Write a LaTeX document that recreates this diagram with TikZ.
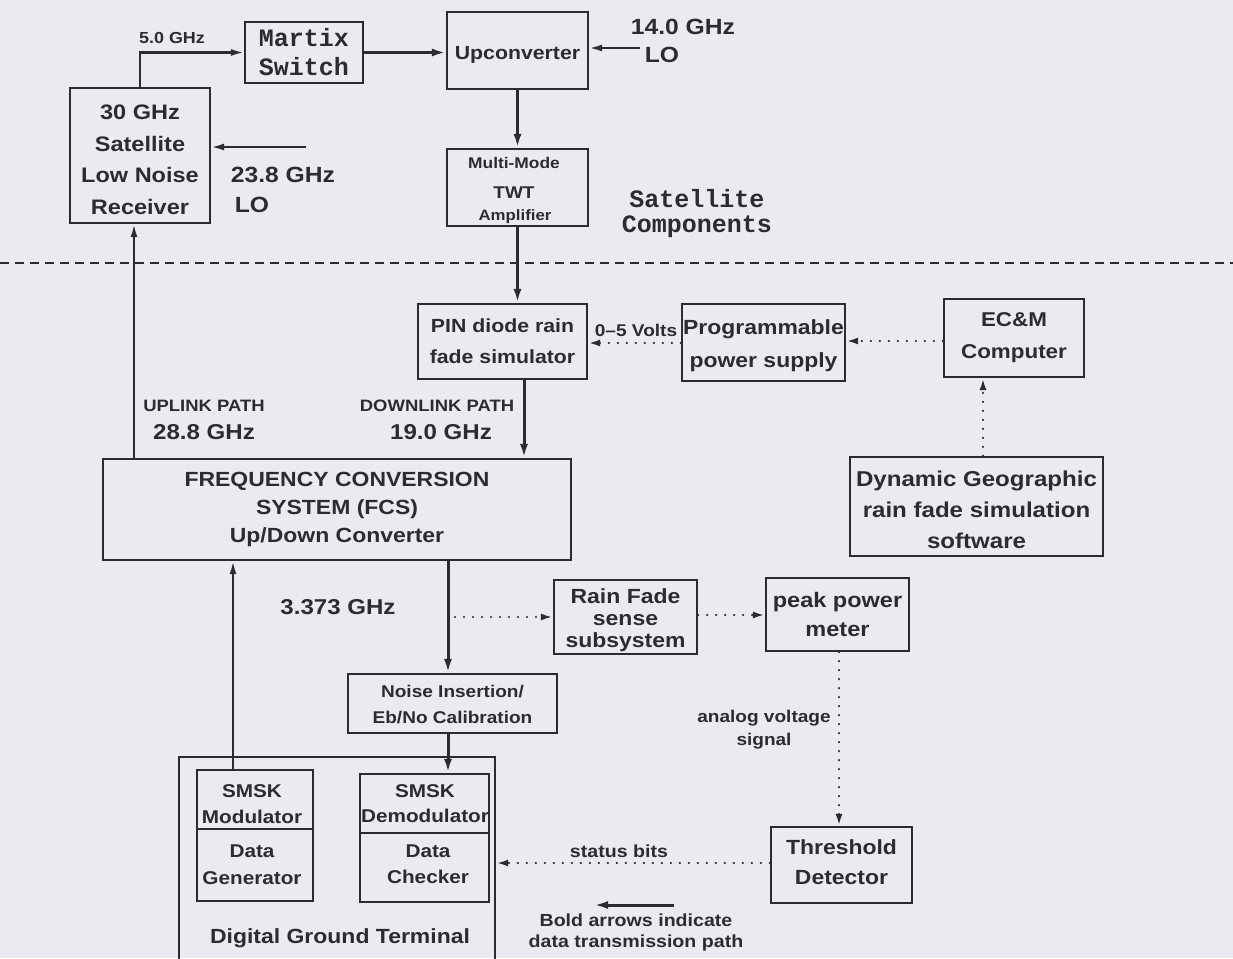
\documentclass[tikz,border=0pt]{standalone}
\usepackage{fontspec}
\setmainfont{Liberation Sans}[FakeStretch=1.12]
\newfontfamily\monof{Liberation Mono}
\usetikzlibrary{arrows.meta,calc}
\definecolor{bg}{RGB}{234,234,240}
\definecolor{ink}{RGB}{44,44,48}
\newcommand\fz[2]{\bfseries\fontsize{#1}{#2}\selectfont}
\begin{document}
\begin{tikzpicture}[x=1pt,y=-1pt,
  box/.style={draw=ink, line width=2.2pt, inner sep=0pt, align=center, text=ink},
  lbl/.style={inner sep=0pt, align=center, text=ink},
  bold/.style={draw=ink, line width=3pt, -{Latex[length=14pt,width=8pt]}},
  thin/.style={draw=ink, line width=2.2pt, -{Latex[length=13pt,width=7pt]}},
  dots/.style={draw=ink, line width=2.4pt, line cap=round, dash pattern=on 0pt off 9pt, -{Latex[length=12pt,width=7pt]}},
  sep/.style={draw=ink, line width=2pt, dash pattern=on 9pt off 6pt}]
\fill[bg] (0,0) rectangle (1233,958);
\clip (0,0) rectangle (1233,958);

% ---------- satellite boxes ----------
\node[box, minimum width=140pt, minimum height=135pt] (recv) at (140,155.5) {};
\node[lbl, font=\fz{21}{31.5}] (recvt) at (140,160) {30 GHz\\Satellite\\Low Noise\\Receiver};
\node[box, minimum width=118pt, minimum height=61pt, font={\monof\fz{25}{29}}] (martix) at (304,52.5) {Martix\\Switch};
\node[box, minimum width=141pt, minimum height=77pt] (upconv) at (517.5,50.5) {};
\node[lbl, font=\fz{19}{24}] (upconvt) at (517.5,55) {Upconverter};
\node[box, minimum width=141pt, minimum height=77pt] (twt) at (517.5,187.5) {};
\node[lbl, font=\fz{15.5}{18}] (twt1) at (514,163) {Multi-Mode};
\node[lbl, font=\fz{17}{20}] (twt2) at (514,193) {TWT};
\node[lbl, font=\fz{15}{18}] (twt3) at (515,217) {Amplifier};

\node[lbl, font=\fz{16}{20}] (l50) at (172,38) {5.0 GHz};
\node[lbl, font=\fz{22}{26}] (l140) at (683,27) {14.0 GHz};
\node[lbl, font=\fz{22}{26}] (llo1) at (662,55) {LO};
\node[lbl, font=\fz{22}{26}] (l238) at (283,175) {23.8 GHz};
\node[lbl, font=\fz{22}{26}] (llo2) at (252,205) {LO};
\node[lbl, font={\monof\fz{25}{29}}] (sat1) at (697,199) {Satellite};
\node[lbl, font={\monof\fz{25}{29}}] (sat2) at (697,227) {Components};

\coordinate (lo14) at (640,48);
\coordinate (lo23) at (306,147);
\coordinate (sepL) at (0,263);
\coordinate (sepR) at (1233,263);

% ---------- ground boxes ----------
\node[box, minimum width=169pt, minimum height=75pt, font=\fz{19}{31}] (pin) at (502.5,341.5) {PIN diode rain\\fade simulator};
\node[box, minimum width=163pt, minimum height=77pt] (prog) at (763.5,342.5) {};
\node[lbl, font=\fz{20.5}{33}] (progt) at (763.5,346) {Programmable\\power supply};
\node[box, minimum width=140pt, minimum height=78pt, font=\fz{20}{32}] (ecm) at (1014,338) {EC\&M\\Computer};
\node[box, minimum width=253pt, minimum height=99pt] (dyn) at (976.5,506.5) {};
\node[lbl, font=\fz{21.5}{31}] (dynt) at (976.5,510) {Dynamic Geographic\\rain fade simulation\\software};
\node[box, minimum width=468pt, minimum height=101pt, font=\fz{20.5}{28}] (fcs) at (337,509.5) {FREQUENCY CONVERSION\\SYSTEM (FCS)\\Up/Down Converter};
\node[box, minimum width=143pt, minimum height=74pt] (rain) at (625.5,617) {};
\node[lbl, font=\fz{20.5}{22}] (raint) at (625.5,620) {Rain Fade\\sense\\subsystem};
\node[box, minimum width=143pt, minimum height=73pt, font=\fz{21}{29}] (peak) at (837.5,614.5) {peak power\\meter};
\node[box, minimum width=141pt, minimum height=76pt] (thr) at (841.5,865) {};
\node[lbl, font=\fz{20.5}{30}] (thrt) at (841.5,862) {Threshold\\Detector};
\node[box, minimum width=209pt, minimum height=59pt] (noise) at (452.5,703.5) {};
\node[lbl, font=\fz{17}{26}] (noiset) at (452.5,705) {Noise Insertion/\\Eb/No Calibration};
\node[box, minimum width=316pt, minimum height=230pt] (dgt) at (337,872) {};
\node[box, minimum width=116pt, minimum height=131pt] (mod) at (255,835.5) {};
\node[box, minimum width=129pt, minimum height=128pt] (dem) at (424.5,838) {};
\coordinate (modd) at (0,829);
\coordinate (demd) at (0,833);
\node[lbl, font=\fz{18.5}{26}] (modt) at (252,804) {SMSK\\Modulator};
\node[lbl, font=\fz{18.5}{27}] (modb) at (252,864.5) {Data\\Generator};
\node[lbl, font=\fz{18.5}{25}] (demt) at (425,803.5) {SMSK\\Demodulator};
\node[lbl, font=\fz{18.5}{26}] (demb) at (428,864) {Data\\Checker};
\node[lbl, font=\fz{20.5}{24}] (dgtl) at (340,938) {Digital Ground Terminal};

\node[lbl, font=\fz{17}{20}] (l05) at (636,330) {0--5 Volts};
\node[lbl, font=\fz{16.5}{20}] (lup1) at (204,406) {UPLINK PATH};
\node[lbl, font=\fz{21.5}{24}] (lup2) at (204,432) {28.8 GHz};
\node[lbl, font=\fz{16.5}{20}] (ldn1) at (437,406) {DOWNLINK PATH};
\node[lbl, font=\fz{21.5}{24}] (ldn2) at (441,432) {19.0 GHz};
\node[lbl, font=\fz{21.5}{24}] (l3373) at (338,607) {3.373 GHz};
\node[lbl, font=\fz{17}{23}] (lav) at (764,730) {analog voltage\\signal};
\node[lbl, font=\fz{17.5}{20}] (lsb) at (619,851) {status bits};
\node[lbl, font=\fz{17.5}{21}] (leg) at (636,932) {Bold arrows indicate\\data transmission path};

\coordinate (dlx) at (524,0);
\coordinate (ulx) at (134,0);
\coordinate (ux2) at (233,0);
\coordinate (dnx) at (448,0);
\coordinate (ecx) at (983,0);
\coordinate (pkx) at (839,0);
\coordinate (tap) at (455,617);
\coordinate (legA) at (674,905);
\coordinate (legB) at (594,905);

% ---------- dividers and separator ----------
\draw[ink, line width=2.2pt] (mod.west |- modd) -- (mod.east |- modd);
\draw[ink, line width=2.2pt] (dem.west |- demd) -- (dem.east |- demd);
\draw[sep] (sepL) -- (sepR);

% ---------- connectors ----------
\draw[thin] (recv.north) |- (martix.west);
\draw[bold] (martix.east) -- (martix.east -| upconv.west);
\draw[thin] (lo14) -- (lo14 -| upconv.east);
\draw[bold] (upconv.south) -- (twt.north);
\draw[thin] (lo23) -- (lo23 -| recv.east);
\draw[bold] (twt.south) -- (twt.south |- pin.north);
\draw[bold] (pin.south -| dlx) -- (fcs.north -| dlx);
\draw[dots] (prog.west |- 0,343) -- (pin.east |- 0,343);
\draw[dots] (ecm.west |- 0,341) -- (prog.east |- 0,341);
\draw[dots] (dyn.north -| ecx) -- (ecm.south -| ecx);
\draw[thin] (fcs.north -| ulx) -- (recv.south -| ulx);
\draw[thin] (mod.north -| ux2) -- (fcs.south -| ux2);
\draw[bold] (fcs.south -| dnx) -- (noise.north -| dnx);
\draw[bold] (noise.south -| dnx) -- (dem.north -| dnx);
\draw[dots] (tap) -- (rain.west);
\draw[dots] (rain.east |- 0,615) -- (peak.west |- 0,615);
\draw[dots] (peak.south -| pkx) -- (thr.north -| pkx);
\draw[dots] (thr.west |- 0,863) -- (dgt.east |- 0,863);
\draw[bold] (legA) -- (legB);
\end{tikzpicture}
\end{document}
